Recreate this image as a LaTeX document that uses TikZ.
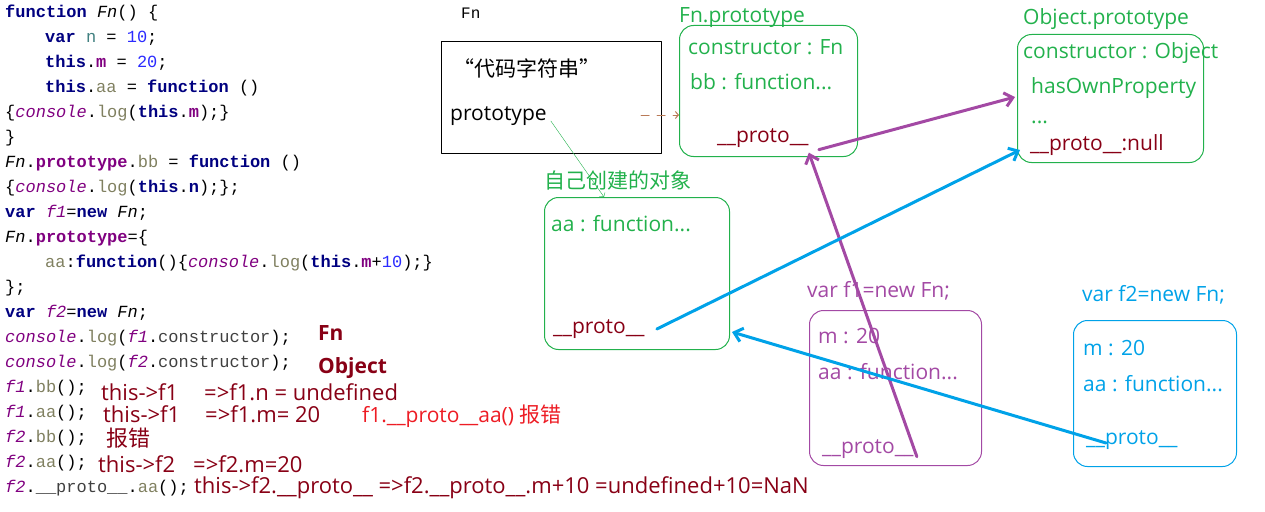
\documentclass[tikz,border=0pt]{standalone}
\usepackage{fontspec}
\setmainfont{Open Sans}
\newfontfamily\codefont{Liberation Mono}
\newfontfamily\cjk{Noto Sans CJK SC}
\usetikzlibrary{arrows.meta}
\usetikzlibrary{calc}
\definecolor{pgreen}{HTML}{22B14C}
\definecolor{ppurple}{HTML}{A349A4}
\definecolor{pblue}{HTML}{00A2E8}
\definecolor{pdred}{HTML}{880015}
\definecolor{pred}{HTML}{ED1C24}
\definecolor{pbrown}{HTML}{B97A57}
\definecolor{kwnavy}{HTML}{000080}
\definecolor{numblue}{HTML}{2B2BFF}
\definecolor{tealn}{HTML}{408080}
\definecolor{olive}{HTML}{808060}
\definecolor{mempurple}{HTML}{800080}
\definecolor{cgrey}{HTML}{404040}
\newcommand\ckw[1]{\textbf{\textcolor{kwnavy}{#1}}}
\newcommand\cfn[1]{\textit{#1}}
\newcommand\cnum[1]{\textcolor{numblue}{#1}}
\newcommand\cprop[1]{\textcolor{olive}{#1}}
\newcommand\cmem[1]{\textbf{\textcolor{mempurple}{#1}}}
\newcommand\cobj[1]{\textit{\textcolor{mempurple}{#1}}}
\newcommand\cgr[1]{\textcolor{cgrey}{#1}}

\begin{document}
\begin{tikzpicture}[x=1pt,y=-1pt,line cap=round,line join=round,
  code/.style={anchor=west,inner sep=0pt,font=\codefont\fontsize{17}{20}\selectfont},
  note/.style={anchor=west,inner sep=0pt,text=pdred,font=\fontsize{22}{26}\selectfont},
  txt/.style={anchor=west,inner sep=0pt,font=\fontsize{21}{25}\selectfont},
  box/.style={draw,line width=1pt,rounded corners=14pt,anchor=north west,inner sep=0pt},
  parr/.style={ppurple,line width=3pt,-{Straight Barb[length=8pt,width=14pt]}},
  barr/.style={pblue,line width=3pt,-{Straight Barb[length=8pt,width=14pt]}}]
\useasboundingbox (0,0) rectangle (1265,511);
% source code
\node[code] (c1) at (5,13) {\ckw{function} \cfn{Fn}() \{};
\node[code] (c2) at (45,38) {\ckw{var} \textcolor{tealn}{n} = \cnum{10};};
\node[code] (c3) at (45,63) {\ckw{this}.\cmem{m} = \cnum{20};};
\node[code] (c4) at (45,88) {\ckw{this}.\cprop{aa} = \ckw{function} ()};
\node[code] (c5) at (5,113) {\{\cobj{console}.\cprop{log}(\ckw{this}.\cmem{m});\}};
\node[code] (c6) at (5,138) {\}};
\node[code] (c7) at (5,163) {\cfn{Fn}.\cmem{prototype}.\cprop{bb} = \ckw{function} ()};
\node[code] (c8) at (5,188) {\{\cobj{console}.\cprop{log}(\ckw{this}.\ckw{n});\};};
\node[code] (c9) at (5,213) {\ckw{var} \cobj{f1}=\ckw{new} \cfn{Fn};};
\node[code] (c10) at (5,238) {\cfn{Fn}.\cmem{prototype}=\{};
\node[code] (c11) at (45,263) {\cprop{aa}:\ckw{function}()\{\cobj{console}.\cprop{log}(\ckw{this}.\cmem{m}+\cnum{10});\}};
\node[code] (c12) at (5,288) {\};};
\node[code] (c13) at (5,313) {\ckw{var} \cobj{f2}=\ckw{new} \cfn{Fn};};
\node[code] (c14) at (5,338) {\cobj{console}.\cprop{log}(\cobj{f1}.\cgr{constructor});};
\node[code] (c15) at (5,363) {\cobj{console}.\cprop{log}(\cobj{f2}.\cgr{constructor});};
\node[code] (c16) at (5,388) {\cobj{f1}.\cprop{bb}();};
\node[code] (c17) at (5,413) {\cobj{f1}.\cprop{aa}();};
\node[code] (c18) at (5,438) {\cobj{f2}.\cprop{bb}();};
\node[code] (c19) at (5,463) {\cobj{f2}.\cprop{aa}();};
\node[code] (c20) at (5,488) {\cobj{f2}.\cgr{\_\_proto\_\_}.\cprop{aa}();};
% results
\node[note,font=\bfseries\fontsize{21}{24}\selectfont] (r14) at (318,333) {Fn};
\node[note,font=\bfseries\fontsize{21}{24}\selectfont] (r15) at (318,368) {Object};
\node[note] (r16) at (101,392) {this->f1\hspace{26pt}=>f1.n = undefined};
\node[note] (r17) at (103,414) {this->f1\hspace{25pt}=>f1.m= 20};
\node[note,text=pred,font=\fontsize{21}{24}\selectfont] (r17b) at (362,416) {f1.\_\_proto\_\_aa() {\cjk 报错}};
\node[note] (r18) at (106,438) {\cjk 报错};
\node[note] (r19) at (98,464) {this->f2\hspace{18pt}=>f2.m=20};
\node[note] (r20) at (194,488) {this->f2.\_\_proto\_\_ =>f2.\_\_proto\_\_.m+10 =undefined+10=NaN};
% Fn function object
\node[code,font=\codefont\fontsize{16}{20}\selectfont] (fnname) at (461,13) {Fn};
\node[draw,line width=1.2pt,anchor=north west,minimum width=220,minimum height=112] (fnbox) at (441,41) {};
\node[txt] (fncode) at (453,68) {\cjk “代码字符串”};
\node[txt] (fnproto) at (450,116) {prototype};
% Fn.prototype
\node[box,pgreen,minimum width=178,minimum height=131] (fpbox) at (679,25) {};
\node[txt,text=pgreen] (fplab) at (679,18) {Fn.prototype};
\node[txt,text=pgreen] (fpcon) at (688,47) {constructor : Fn};
\node[txt,text=pgreen] (fpbb) at (690,82) {bb : function...};
\node[txt,text=pdred] (fpproto) at (717,138) {\_\_proto\_\_};
% own object
\node[box,pgreen,minimum width=185,minimum height=152] (selfbox) at (544,197) {};
\node[txt,text=pgreen] (selflab) at (544,180) {\cjk 自己创建的对象};
\node[txt,text=pgreen] (selfaa) at (551,224) {aa : function...};
\node[txt,text=pdred] (selfproto) at (553,329) {\_\_proto\_\_};
% Object.prototype
\node[box,pgreen,minimum width=186,minimum height=128] (opbox) at (1017,34) {};
\node[txt,text=pgreen] (oplab) at (1023,19) {Object.prototype};
\node[txt,text=pgreen] (opcon) at (1023,53) {constructor : Object};
\node[txt,text=pgreen] (ophas) at (1031,88) {hasOwnProperty};
\node[txt,text=pgreen] (opdots) at (1031,122) {...};
\node[txt,text=pdred] (opnull) at (1030,145) {\_\_proto\_\_:null};
% f1
\node[box,ppurple,minimum width=172,minimum height=155] (f1box) at (809,310) {};
\node[txt,text=ppurple] (f1lab) at (807,291) {var f1=new Fn;};
\node[txt,text=ppurple] (f1m) at (818,336) {m : 20};
\node[txt,text=ppurple] (f1aa) at (818,372) {aa : function...};
\node[txt,text=ppurple] (f1proto) at (822,449) {\_\_proto\_\_};
% f2
\node[box,pblue,minimum width=163,minimum height=146] (f2box) at (1073,320) {};
\node[txt,text=pblue] (f2lab) at (1082,295) {var f2=new Fn;};
\node[txt,text=pblue] (f2m) at (1083,348) {m : 20};
\node[txt,text=pblue] (f2aa) at (1083,384) {aa : function...};
\node[txt,text=pblue] (f2proto) at (1086,440) {\_\_proto\_\_};
% links
\coordinate (dstart) at (641,115);
\draw[pbrown,line width=1pt,dash pattern=on 8pt off 8pt,-{Straight Barb[length=3pt,width=7pt]}] (dstart) -- (fpbox.west |- dstart);
\draw[pgreen,-{Straight Barb[length=3pt,width=7pt]}] ($(fnproto.east)+(4,5)$) -- ($(selfbox.north west)+(60,0)$);
\draw[parr] ($(fpproto.south east)+(10,2)$) -- ($(opbox.west |- ophas)+(-2,9)$);
\draw[parr] ($(f1proto.south east)+(3,-2)$) -- ($(fpproto.south east)+(0,5)$);
\draw[barr] ($(selfproto.east)+(12,0)$) -- ($(opbox.west |- opnull)+(3,5)$);
\draw[barr] ($(f2proto.west)+(20,3)$) -- ($(selfbox.east |- selfproto)+(2,3)$);
\end{tikzpicture}
\end{document}
